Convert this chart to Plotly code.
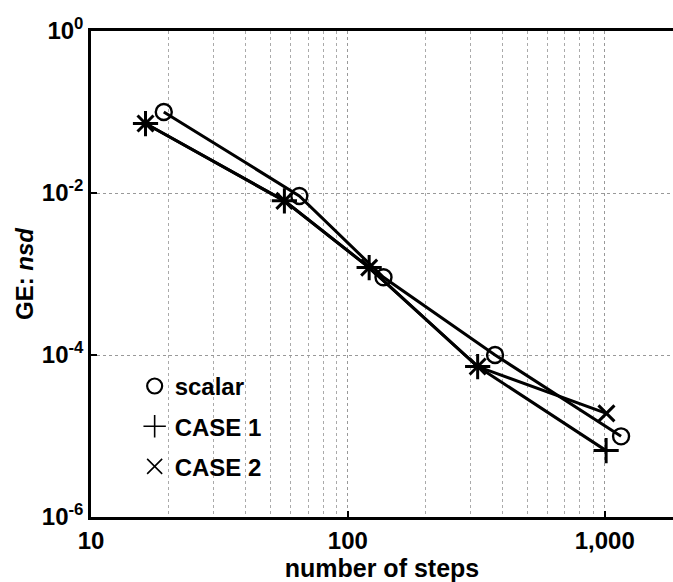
import numpy as np
import plotly.graph_objects as go

# Data
scalar_x = [19.2, 64.7, 137.6, 374, 1157]
scalar_y = [0.1, 9.2e-3, 9.1e-4, 1.0e-4, 9.9e-6]
case1_x = [16.3, 56.6, 121, 320, 1012]
case1_y = [0.072, 8.0e-3, 1.2e-3, 7.2e-5, 6.6e-6]
case2_x = [16.3, 56.6, 121, 320, 1015]
case2_y = [0.072, 8.0e-3, 1.2e-3, 7.2e-5, 1.9e-5]

x_tickvals = [10, 100, 1000]
x_ticktext = ["10", "100", "1,000"]
y_tickvals = [1e-6, 1e-4, 1e-2, 1]
y_ticktext = ["10<sup>-6</sup>", "10<sup>-4</sup>", "10<sup>-2</sup>", "10<sup>0</sup>"]
x_minor = [m * 10 ** e for e in (1, 2, 3) for m in range(2, 10)]

FONT = "Liberation Sans, Arial, sans-serif"
BOLD = dict(family=FONT, color="black", weight="bold")
fig = go.Figure()

line = dict(color="black", width=3)
fig.add_trace(go.Scatter(x=scalar_x, y=scalar_y, mode="lines+markers", line=line,
                         marker=dict(symbol="circle-open", size=16, color="black",
                                     line=dict(width=2.4, color="black")),
                         showlegend=False))
fig.add_trace(go.Scatter(x=case1_x, y=case1_y, mode="lines+markers", line=line,
                         marker=dict(symbol="cross-thin-open", size=18, color="black",
                                     line=dict(width=3, color="black")),
                         showlegend=False))
fig.add_trace(go.Scatter(x=case2_x, y=case2_y, mode="lines+markers", line=line,
                         marker=dict(symbol="x-thin-open", size=16, color="black",
                                     line=dict(width=3, color="black")),
                         showlegend=False))

# legend-only entries (markers only)
fig.add_trace(go.Scatter(x=[None], y=[None], mode="markers", name="scalar",
                         legendgroup="a",
                         marker=dict(symbol="circle-open", size=15, color="black",
                                     line=dict(width=2.2, color="black"))))
fig.add_trace(go.Scatter(x=[None], y=[None], mode="markers", name="CASE 1",
                         legendgroup="b",
                         marker=dict(symbol="cross-thin-open", size=17, color="black",
                                     line=dict(width=1.6, color="black"))))
fig.add_trace(go.Scatter(x=[None], y=[None], mode="markers", name="CASE 2",
                         legendgroup="c",
                         marker=dict(symbol="x-thin-open", size=15, color="black",
                                     line=dict(width=1.6, color="black"))))

fig.update_layout(
    width=673, height=582,
    margin=dict(l=91, r=0, t=31, b=65),
    paper_bgcolor="white", plot_bgcolor="white",
    font=dict(family=FONT, size=22, color="black"),
    legend=dict(x=0.075, y=0.315, xanchor="left", yanchor="top",
                bgcolor="rgba(0,0,0,0)", tracegroupgap=6,
                font=dict(size=24, **BOLD)),
    xaxis=dict(
        type="log", range=[1, np.log10(1843)],
        tickvals=x_tickvals, ticktext=x_ticktext,
        showline=True, linecolor="black", linewidth=2.5, mirror=True,
        ticks="inside", ticklen=6, tickcolor="black", tickwidth=1.5,
        showgrid=True, gridcolor="#999", griddash="dot", gridwidth=1,
        minor=dict(tickvals=x_minor, showgrid=True, gridcolor="#aaa",
                   griddash="dot", gridwidth=1, ticks=""),
        zeroline=False,
        title=dict(text="number of steps", font=dict(size=25, **BOLD), standoff=2),
        tickfont=dict(size=24, **BOLD),
    ),
    yaxis=dict(
        type="log", range=[-6, 0],
        tickvals=y_tickvals, ticktext=y_ticktext,
        showline=True, linecolor="black", linewidth=2.5, mirror=False,
        ticks="inside", ticklen=6, tickcolor="black", tickwidth=1.5,
        showgrid=True, gridcolor="#999", griddash="dot", gridwidth=1,
        zeroline=False,
        title=dict(text="GE: <i>nsd</i>", font=dict(size=24, **BOLD), standoff=2),
        tickfont=dict(size=24, **BOLD),
    ),
)

fig.write_html("out.html")
